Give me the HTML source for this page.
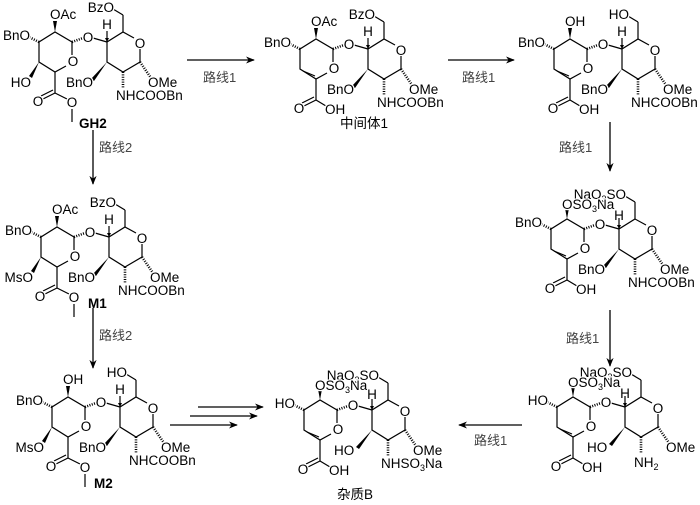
<!DOCTYPE html>
<html><head><meta charset="utf-8">
<style>
html,body{margin:0;padding:0;background:#fff;}
svg{display:block;}
text{font-family:"Liberation Sans","Noto Sans CJK SC",sans-serif;font-size:13.5px;fill:#000;stroke:#fff;stroke-width:2.5px;paint-order:stroke;stroke-linejoin:round;}
.cn{font-size:13px;fill:#444;}
.b{font-weight:bold;}
.s{font-size:9px;}
.o{stroke:none;}
</style></head><body>
<svg width="700" height="505" viewBox="0 0 700 505" xmlns="http://www.w3.org/2000/svg">
<defs>
<marker id="ah" viewBox="0 0 10 10" refX="9" refY="5" markerWidth="9" markerHeight="9" markerUnits="userSpaceOnUse" orient="auto">
<path d="M0,1 L10,5 L0,9 L3,5 z" fill="#000"/></marker>
<g id="R" stroke="#000" stroke-width="1.2" fill="none">
<polyline points="134,38 123,32 107,42 107,62 123,72 140,62 140,49"/>
<line x1="107" y1="42" x2="107" y2="31"/>
<line x1="123" y1="32" x2="123" y2="15"/>
<line x1="123" y1="15" x2="113" y2="9"/>
<line x1="140" y1="62" x2="151" y2="78" stroke-width="2.6" stroke-dasharray="1,1.4"/>
<line x1="123" y1="72" x2="123" y2="88" stroke-width="2.6" stroke-dasharray="1,1.4"/>
<polygon points="107,62 91,79 94,81" fill="#000" stroke="none"/>
<line x1="72" y1="42" x2="83" y2="38" stroke-width="2.6" stroke-dasharray="1,1.4"/>
<line x1="93" y1="38" x2="107" y2="42"/>
<polygon points="107,42 105,38 109,38" fill="#000" stroke="none"/>
</g>
<g id="Ls" stroke="#000" stroke-width="1.2" fill="none">
<polyline points="72,55 72,42 55,32 39,42 39,62 55,72 66,66"/>
<polygon points="55,32 53,21 57,21" fill="#000" stroke="none"/>
<line x1="39" y1="42" x2="29" y2="37" stroke-width="2.6" stroke-dasharray="1,1.4"/>
<polygon points="39,62 29,76 32,78" fill="#000" stroke="none"/>
<line x1="55" y1="72" x2="55" y2="93"/>
<line x1="55" y1="93" x2="43" y2="99"/>
<line x1="53" y1="90" x2="41" y2="96"/>
<line x1="55" y1="93" x2="67" y2="99"/>
<line x1="72" y1="109" x2="72" y2="122"/>
</g>
<g id="Lu" stroke="#000" stroke-width="1.2" fill="none">
<polyline points="72,55 72,42 55,32 39,42 39,62 55,72 66,66"/>
<line x1="42" y1="64" x2="54" y2="69"/>
<polygon points="55,32 53,21 57,21" fill="#000" stroke="none"/>
<line x1="39" y1="42" x2="29" y2="37" stroke-width="2.6" stroke-dasharray="1,1.4"/>
<line x1="55" y1="72" x2="55" y2="93"/>
<line x1="55" y1="93" x2="43" y2="99"/>
<line x1="53" y1="90" x2="41" y2="96"/>
<line x1="55" y1="93" x2="65" y2="99"/>
</g>
</defs>

<g transform="translate(0,0)">
<use href="#Ls"/><use href="#R"/>
<text x="50" y="19">OAc</text>
<text x="30" y="40" text-anchor="end">BnO</text>
<text x="31" y="87" text-anchor="end">HO</text>
<text x="38" y="106" text-anchor="middle">O</text>
<text x="72" y="107" text-anchor="middle">O</text>
<text x="73" y="66" text-anchor="middle" class="o">O</text>
<text x="88" y="42" text-anchor="middle">O</text>
<text x="107" y="29" text-anchor="middle">H</text>
<text x="114" y="12" text-anchor="end">BzO</text>
<text x="140" y="48" text-anchor="middle" class="o">O</text>
<text x="148" y="87">OMe</text>
<text x="66" y="87">BnO</text>
<text x="116" y="100">NHCOOBn</text>
<text x="79" y="128" class="b">GH2</text>
</g>

<g transform="translate(261,7)">
<use href="#Lu"/><use href="#R"/>
<text x="50" y="19">OAc</text>
<text x="30" y="40" text-anchor="end">BnO</text>
<text x="38" y="106" text-anchor="middle">O</text>
<text x="64" y="107">OH</text>
<text x="73" y="66" text-anchor="middle" class="o">O</text>
<text x="88" y="42" text-anchor="middle">O</text>
<text x="107" y="29" text-anchor="middle">H</text>
<text x="114" y="12" text-anchor="end">BzO</text>
<text x="140" y="48" text-anchor="middle" class="o">O</text>
<text x="148" y="87">OMe</text>
<text x="66" y="87">BnO</text>
<text x="116" y="100">NHCOOBn</text>
<text x="79" y="121">中间体1</text>
</g>

<g transform="translate(515,7)">
<use href="#Lu"/><use href="#R"/>
<text x="50" y="19">OH</text>
<text x="30" y="40" text-anchor="end">BnO</text>
<text x="38" y="106" text-anchor="middle">O</text>
<text x="64" y="107">OH</text>
<text x="73" y="66" text-anchor="middle" class="o">O</text>
<text x="88" y="42" text-anchor="middle">O</text>
<text x="107" y="29" text-anchor="middle">H</text>
<text x="114" y="12" text-anchor="end">HO</text>
<text x="140" y="48" text-anchor="middle" class="o">O</text>
<text x="148" y="87">OMe</text>
<text x="66" y="87">BnO</text>
<text x="116" y="100">NHCOOBn</text>
</g>

<g transform="translate(512,187)">
<use href="#Lu"/><use href="#R"/>
<text x="30" y="40" text-anchor="end">BnO</text>
<text x="38" y="106" text-anchor="middle">O</text>
<text x="64" y="107">OH</text>
<text x="73" y="66" text-anchor="middle" class="o">O</text>
<text x="88" y="42" text-anchor="middle">O</text>
<text x="140" y="48" text-anchor="middle" class="o">O</text>
<text x="148" y="87">OMe</text>
<text x="66" y="87">BnO</text>
<text x="116" y="100">NHCOOBn</text>
<text x="114" y="12" text-anchor="end">NaO<tspan class="s" dy="3">3</tspan><tspan dy="-3">SO</tspan></text>
<text x="50" y="22">OSO<tspan class="s" dy="3">3</tspan><tspan dy="-3">Na</tspan></text>
<text x="107" y="33" text-anchor="middle">H</text>
</g>

<g transform="translate(518,365)">
<use href="#Lu"/><use href="#R"/>
<text x="30" y="40" text-anchor="end">HO</text>
<text x="38" y="106" text-anchor="middle">O</text>
<text x="64" y="107">OH</text>
<text x="73" y="66" text-anchor="middle" class="o">O</text>
<text x="88" y="42" text-anchor="middle">O</text>
<text x="140" y="48" text-anchor="middle" class="o">O</text>
<text x="148" y="87">OMe</text>
<text x="69" y="87">HO</text>
<text x="116" y="102">NH<tspan class="s" dy="3">2</tspan></text>
<text x="114" y="12" text-anchor="end">NaO<tspan class="s" dy="3">3</tspan><tspan dy="-3">SO</tspan></text>
<text x="50" y="22">OSO<tspan class="s" dy="3">3</tspan><tspan dy="-3">Na</tspan></text>
<text x="107" y="33" text-anchor="middle">H</text>
</g>

<g transform="translate(265,368)">
<use href="#Lu"/><use href="#R"/>
<text x="30" y="40" text-anchor="end">HO</text>
<text x="38" y="106" text-anchor="middle">O</text>
<text x="64" y="107">OH</text>
<text x="73" y="66" text-anchor="middle" class="o">O</text>
<text x="88" y="42" text-anchor="middle">O</text>
<text x="140" y="48" text-anchor="middle" class="o">O</text>
<text x="148" y="87">OMe</text>
<text x="69" y="87">HO</text>
<text x="116" y="100">NHSO<tspan class="s" dy="3">3</tspan><tspan dy="-3">Na</tspan></text>
<text x="114" y="12" text-anchor="end">NaO<tspan class="s" dy="3">3</tspan><tspan dy="-3">SO</tspan></text>
<text x="50" y="22">OSO<tspan class="s" dy="3">3</tspan><tspan dy="-3">Na</tspan></text>
<text x="107" y="31" text-anchor="middle">H</text>
<text x="72" y="131">杂质B</text>
</g>

<g transform="translate(2,195)">
<use href="#Ls"/><use href="#R"/>
<text x="50" y="19">OAc</text>
<text x="30" y="40" text-anchor="end">BnO</text>
<text x="31" y="87" text-anchor="end">MsO</text>
<text x="38" y="106" text-anchor="middle">O</text>
<text x="72" y="107" text-anchor="middle">O</text>
<text x="73" y="66" text-anchor="middle" class="o">O</text>
<text x="88" y="42" text-anchor="middle">O</text>
<text x="107" y="29" text-anchor="middle">H</text>
<text x="114" y="12" text-anchor="end">BzO</text>
<text x="140" y="48" text-anchor="middle" class="o">O</text>
<text x="148" y="87">OMe</text>
<text x="66" y="87">BnO</text>
<text x="116" y="100">NHCOOBn</text>
<text x="86" y="113" class="b">M1</text>
</g>

<g transform="translate(13,365)">
<use href="#Ls"/><use href="#R"/>
<text x="50" y="19">OH</text>
<text x="30" y="40" text-anchor="end">BnO</text>
<text x="31" y="87" text-anchor="end">MsO</text>
<text x="38" y="106" text-anchor="middle">O</text>
<text x="72" y="107" text-anchor="middle">O</text>
<text x="73" y="66" text-anchor="middle" class="o">O</text>
<text x="88" y="42" text-anchor="middle">O</text>
<text x="107" y="29" text-anchor="middle">H</text>
<text x="114" y="12" text-anchor="end">HO</text>
<text x="140" y="48" text-anchor="middle" class="o">O</text>
<text x="148" y="87">OMe</text>
<text x="66" y="87">BnO</text>
<text x="116" y="100">NHCOOBn</text>
<text x="81" y="123" class="b">M2</text>
</g>

<g stroke="#000" stroke-width="1.3" fill="none">
<line x1="187" y1="60" x2="254" y2="60" marker-end="url(#ah)"/>
<line x1="448" y1="60" x2="514" y2="60" marker-end="url(#ah)"/>
<line x1="610" y1="122" x2="610" y2="171" marker-end="url(#ah)"/>
<line x1="610" y1="310" x2="610" y2="366" marker-end="url(#ah)"/>
<line x1="522" y1="425" x2="459" y2="425" marker-end="url(#ah)"/>
<line x1="93" y1="130" x2="93" y2="184" marker-end="url(#ah)"/>
<line x1="93" y1="308" x2="93" y2="368" marker-end="url(#ah)"/>
<line x1="198" y1="407" x2="263" y2="407" marker-end="url(#ah)"/>
<line x1="190" y1="416" x2="257" y2="416" marker-end="url(#ah)"/>
<line x1="170" y1="425" x2="237" y2="425" marker-end="url(#ah)"/>
</g>
<text class="cn" x="203" y="82">路线1</text>
<text class="cn" x="462" y="82">路线1</text>
<text class="cn" x="559" y="152">路线1</text>
<text class="cn" x="566" y="343">路线1</text>
<text class="cn" x="474" y="445">路线1</text>
<text class="cn" x="99" y="152">路线2</text>
<text class="cn" x="99" y="340">路线2</text>
</svg>
</body></html>
